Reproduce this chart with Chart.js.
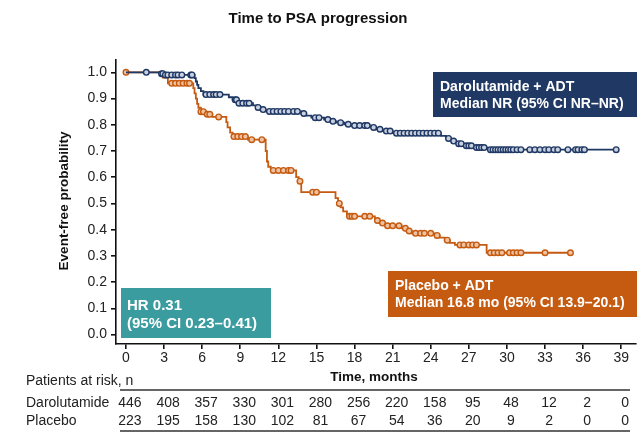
<!DOCTYPE html>
<html>
<head>
<meta charset="utf-8">
<script src="https://cdn.jsdelivr.net/npm/chart.js@4.4.1/dist/chart.umd.min.js"></script>
<style>
  html, body { margin: 0; padding: 0; background: #fff; }
  #wrap { position: relative; width: 641px; height: 440px; }
</style>
</head>
<body>
<div id="wrap"><canvas id="km" width="641" height="440"></canvas></div>
<script>
// Axis ticks
const monthTicks = [0, 3, 6, 9, 12, 15, 18, 21, 24, 27, 30, 33, 36, 39];
const probTicks = [0, 0.1, 0.2, 0.3, 0.4, 0.5, 0.6, 0.7, 0.8, 0.9, 1.0];

// Darolutamide + ADT: event times (months) and survival after each event
const daroEventTimes = [0, 2.7, 3.0, 5.4, 5.5, 5.6, 5.7, 5.9, 6.1, 8.1, 8.4, 8.8, 10.0, 10.3, 10.6, 11.0,
  13.8, 14.2, 14.6, 15.6, 16.0, 16.6, 17.2, 17.7, 19.3, 19.7, 20.2, 21.0, 24.8, 25.2, 25.6, 26.0, 26.6, 27.4, 28.5];
const daroSurvival = [1.0, 0.995, 0.99, 0.978, 0.965, 0.952, 0.94, 0.928, 0.915, 0.905, 0.895, 0.882, 0.874, 0.866, 0.858, 0.851,
  0.843, 0.835, 0.827, 0.82, 0.813, 0.808, 0.802, 0.797, 0.79, 0.783, 0.776, 0.768, 0.758, 0.748, 0.738, 0.728, 0.72, 0.713, 0.705];
// Darolutamide + ADT: censoring times (months)
const daroCensored = [1.6, 2.8, 2.9, 3.1, 3.3, 3.6, 3.9, 4.1, 4.4, 5.1, 5.2, 6.3, 6.6, 6.9, 7.1, 7.4, 8.6, 8.7, 8.9, 9.2,
  9.5, 9.7, 10.4, 10.8, 11.3, 11.6, 11.9, 12.2, 12.5, 12.8, 13.2, 13.5, 14.0, 14.9, 15.2, 15.9, 16.3, 16.9, 17.5, 18.0,
  18.4, 18.8, 19.0, 19.5, 20.0, 20.5, 20.8, 21.3, 21.6, 21.9, 22.2, 22.5, 22.8, 23.1, 23.4, 23.7, 24.0, 24.3, 24.6,
  25.4, 25.8, 26.2, 26.4, 26.8, 27.0, 27.2, 27.6, 27.8, 28.0, 28.2, 28.7, 28.9, 29.1, 29.3, 29.5, 29.7, 29.9, 30.1,
  30.3, 30.5, 30.8, 31.1, 31.8, 32.2, 32.6, 33.0, 33.3, 33.7, 34.0, 34.8, 35.4, 35.6, 35.9, 36.1, 38.6];

// Placebo + ADT: event times (months) and survival after each event
const placEventTimes = [0, 2.7, 2.9, 3.3, 5.3, 5.4, 5.5, 5.6, 5.7, 5.9, 6.3, 6.8, 7.9, 8.0, 8.2, 8.4, 9.6, 11.0, 11.1,
  11.2, 11.4, 13.4, 13.6, 13.8, 16.5, 16.7, 16.9, 17.1, 17.4, 19.6, 19.9, 20.4, 21.7, 22.1, 22.5, 24.3, 24.7, 25.1,
  25.5, 25.9, 28.4];
const placSurvival = [1.0, 0.99, 0.98, 0.958, 0.94, 0.92, 0.90, 0.88, 0.865, 0.85, 0.84, 0.83, 0.81, 0.79, 0.77, 0.755,
  0.743, 0.70, 0.66, 0.64, 0.626, 0.60, 0.585, 0.543, 0.52, 0.50, 0.485, 0.47, 0.451, 0.435, 0.425, 0.415, 0.405, 0.395,
  0.386, 0.378, 0.37, 0.36, 0.35, 0.342, 0.312];
// Placebo + ADT: censoring times (months)
const placCensored = [0, 3.6, 3.9, 4.2, 4.5, 4.8, 5.0, 5.9, 6.1, 6.4, 6.6, 7.3, 8.5, 8.8, 9.1, 9.4, 9.9, 10.7, 11.6,
  12.0, 12.4, 12.8, 13.0, 13.7, 14.7, 15.0, 16.8, 17.6, 17.8, 18.0, 18.8, 19.2, 19.8, 20.2, 20.6, 21.0, 21.5, 22.0,
  22.3, 22.8, 23.2, 23.5, 24.0, 24.5, 25.3, 26.3, 26.6, 27.0, 27.3, 27.6, 28.7, 29.0, 29.3, 29.6, 30.2, 30.5, 30.8,
  31.1, 33.0, 35.0];

// Patients at risk at each month tick
const riskDaro = [446, 408, 357, 330, 301, 280, 256, 220, 158, 95, 48, 12, 2, 0];
const riskPlac = [223, 195, 158, 130, 102, 81, 67, 54, 36, 20, 9, 2, 0, 0];

const NAVY = '#1f3864';
const ORANGE = '#c55a11';
const TEAL = '#3a9c9e';
const FONT = '"Liberation Sans", Arial, Helvetica, sans-serif';

// Kaplan–Meier step value at time t
function survivalAt(times, surv, t) {
  let v = surv[0];
  for (let i = 0; i < times.length; i++) { if (times[i] <= t) v = surv[i]; else break; }
  return v;
}
function stepPoints(times, surv, censored) {
  const pts = times.map((t, i) => ({ x: t, y: surv[i] }));
  const end = Math.max(...censored);
  pts.push({ x: end, y: survivalAt(times, surv, end) });
  return pts;
}
function censorPoints(times, surv, censored) {
  return censored.map(t => ({ x: t, y: survivalAt(times, surv, t) }));
}

// Annotations, axis titles and the numbers-at-risk table
const overlay = {
  id: 'overlay',
  afterDraw(chart) {
    const ctx = chart.ctx;
    const xs = chart.scales.x;
    ctx.save();
    ctx.textBaseline = 'middle';

    ctx.fillStyle = '#111';
    ctx.textAlign = 'center';
    ctx.font = 'bold 15px ' + FONT;
    ctx.fillText('Time to PSA progression', 318, 19);

    ctx.font = 'bold 13.5px ' + FONT;
    ctx.fillText('Time, months', 374, 377);
    ctx.save();
    ctx.translate(64, 201);
    ctx.rotate(-Math.PI / 2);
    ctx.fillText('Event-free probability', 0, 0);
    ctx.restore();

    // legend boxes
    const box = (x, y, w, h, fill, lines, size, tx, ys) => {
      ctx.fillStyle = fill;
      ctx.fillRect(x, y, w, h);
      ctx.fillStyle = '#fff';
      ctx.textAlign = 'left';
      ctx.font = 'bold ' + size + 'px ' + FONT;
      lines.forEach((s, i) => ctx.fillText(s, tx, ys[i]));
    };
    box(433, 72, 204, 45, NAVY, ['Darolutamide + ADT', 'Median NR (95% CI NR\u2013NR)'], 14, 440, [87, 104]);
    box(388, 271, 249, 46, ORANGE, ['Placebo + ADT', 'Median 16.8 mo (95% CI 13.9\u201320.1)'], 14, 395, [286, 303]);
    box(121, 288, 150, 50, TEAL, ['HR 0.31', '(95% CI 0.23\u20130.41)'], 15, 127, [306, 324]);

    // numbers at risk
    ctx.fillStyle = '#222';
    ctx.font = '14px ' + FONT;
    ctx.textAlign = 'left';
    ctx.fillText('Patients at risk, n', 26, 381);
    ctx.fillText('Darolutamide', 26, 403);
    ctx.fillText('Placebo', 26, 421);
    ctx.textAlign = 'center';
    monthTicks.forEach((m, i) => {
      const px = xs.getPixelForValue(m) + 4;
      ctx.fillText(String(riskDaro[i]), px, 403);
      ctx.fillText(String(riskPlac[i]), px, 421);
    });
    ctx.strokeStyle = '#333';
    ctx.lineWidth = 1.5;
    ctx.beginPath();
    ctx.moveTo(120, 390); ctx.lineTo(630, 390);
    ctx.moveTo(120, 431); ctx.lineTo(630, 431);
    ctx.stroke();
    ctx.restore();
  }
};

new Chart(document.getElementById('km'), {
  type: 'line',
  data: {
    datasets: [
      {
        label: 'Placebo + ADT',
        data: stepPoints(placEventTimes, placSurvival, placCensored),
        stepped: 'before', borderColor: ORANGE, borderWidth: 1.8, pointRadius: 0, fill: false, order: 4
      },
      {
        label: 'Placebo censored',
        data: censorPoints(placEventTimes, placSurvival, placCensored),
        showLine: false, pointRadius: 2.8, pointBorderWidth: 1.4,
        pointBorderColor: ORANGE, pointBackgroundColor: '#efc3a2', order: 3
      },
      {
        label: 'Darolutamide + ADT',
        data: stepPoints(daroEventTimes, daroSurvival, daroCensored),
        stepped: 'before', borderColor: NAVY, borderWidth: 1.8, pointRadius: 0, fill: false, order: 2
      },
      {
        label: 'Darolutamide censored',
        data: censorPoints(daroEventTimes, daroSurvival, daroCensored),
        showLine: false, pointRadius: 2.8, pointBorderWidth: 1.4,
        pointBorderColor: NAVY, pointBackgroundColor: '#c9d0df', order: 1
      }
    ]
  },
  options: {
    responsive: false,
    animation: false,
    devicePixelRatio: 1,
    layout: { padding: { top: 60, right: 4, bottom: 0, left: 0 } },
    plugins: { legend: { display: false }, tooltip: { enabled: false }, title: { display: false } },
    scales: {
      x: {
        type: 'linear', min: -0.786, max: 40.13,
        afterBuildTicks: s => { s.ticks = monthTicks.map(v => ({ value: v })); },
        afterFit: s => { s.height = 96; },
        border: { display: true, color: '#111', width: 1.6 },
        grid: { drawOnChartArea: false, drawTicks: true, tickLength: 5, color: '#111', lineWidth: 1.6 },
        ticks: { color: '#222', font: { family: FONT, size: 14 }, padding: 1, maxRotation: 0, autoSkip: false }
      },
      y: {
        type: 'linear', min: -0.036, max: 1.047,
        afterBuildTicks: s => { s.ticks = probTicks.map(v => ({ value: v })); },
        afterFit: s => { s.width = 116; },
        border: { display: true, color: '#111', width: 1.6 },
        grid: { drawOnChartArea: false, drawTicks: true, tickLength: 5, color: '#111', lineWidth: 1.6 },
        ticks: { color: '#222', font: { family: FONT, size: 14 }, padding: 4, autoSkip: false,
                 callback: v => Number(v).toFixed(1) }
      }
    }
  },
  plugins: [overlay]
});
</script>
</body>
</html>
